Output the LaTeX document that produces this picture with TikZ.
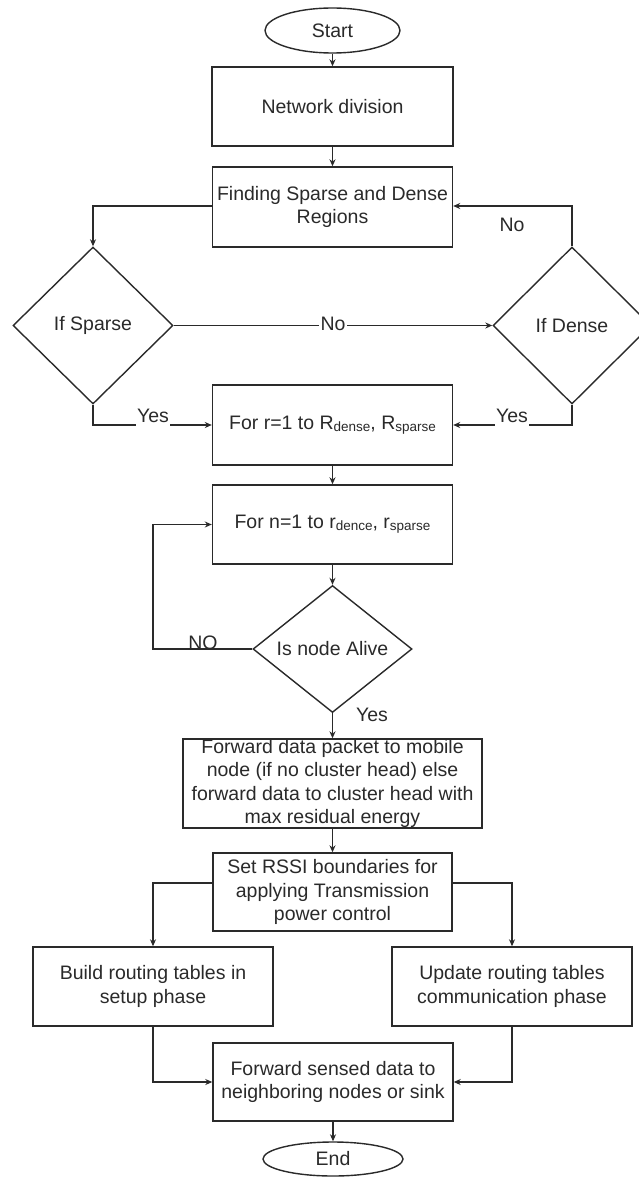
\documentclass[tikz,border=0pt]{standalone}
\usepackage{fontspec}
\setmainfont{Liberation Sans}
\usetikzlibrary{shapes.geometric,arrows.meta}
\newcommand\sbs[1]{\raisebox{-1.8pt}{\fontsize{13.5}{13.5}\selectfont #1}}
\definecolor{ln}{HTML}{2A2A2A}
\tikzset{
  every node/.style={font=\fontsize{19.5}{23.5}\selectfont, text=ln},
  box/.style={draw=ln, line width=1.4pt, rectangle, align=center, inner sep=0pt},
  term/.style={draw=ln, line width=1.4pt, ellipse, inner sep=0pt},
  dec/.style={draw=ln, line width=1.4pt, diamond, inner sep=0pt},
  arr/.style={draw=ln, line width=1.4pt, -{Stealth[length=7pt,width=6pt]}},
  lbl/.style={fill=white, inner xsep=1.5pt, inner ysep=0pt, text depth=6pt}
}
\begin{document}
\begin{tikzpicture}[x=1pt,y=-1pt]
\fill[white] (0,0) rectangle (639,1177);
\useasboundingbox (0,0) rectangle (639,1177);

\node[term, minimum width=135pt, minimum height=45pt] (start) at (332.5,30.5) {Start};
\node[box, minimum width=241pt, minimum height=79pt] (net) at (332.5,106.5) {Network division};
\node[box, minimum width=240pt, minimum height=80pt] (find) at (332.5,207) {Finding Sparse and Dense\\Regions};
\node[dec, minimum width=160pt, minimum height=157pt] (sparse) at (93,325.5) {If Sparse};
\node[dec, minimum width=158pt, minimum height=157pt] (dense) at (572,325.5) {If Dense};
\node[box, minimum width=240pt, minimum height=80pt] (forr) at (332.5,425) {For r=1 to R\sbs{dense}, R\sbs{sparse}};
\node[box, minimum width=240pt, minimum height=79pt] (forn) at (332.5,524.5) {For n=1 to r\sbs{dence}, r\sbs{sparse}};
\node[dec, minimum width=159pt, minimum height=127pt] (alive) at (332.5,649) {Is node Alive};
\node[box, minimum width=299pt, minimum height=89pt] (fwd) at (332.5,783.5) {Forward data packet to mobile\\node (if no cluster head) else\\forward data to cluster head with\\max residual energy};
\node[box, minimum width=239pt, minimum height=78pt] (rssi) at (332.5,892) {Set RSSI boundaries for\\applying Transmission\\power control};
\node[box, minimum width=240pt, minimum height=79pt] (build) at (153,986.5) {Build routing tables in\\setup phase};
\node[box, minimum width=240pt, minimum height=79pt] (update) at (512,986.5) {Update routing tables\\communication phase};
\node[box, minimum width=240pt, minimum height=78pt] (fsens) at (333,1082) {Forward sensed data to\\neighboring nodes or sink};
\node[term, minimum width=140pt, minimum height=34pt] (end) at (333,1159) {End};

\coordinate (loop) at (153,649);

\draw[arr] (start) -- (net);
\draw[arr] (net) -- (find);
\draw[arr] ([yshift=1pt]find.west) -| (sparse.north);
\draw[arr] (dense.north) |- ([yshift=1pt]find.east);
\node[anchor=base] (nolbl1) at (512,231) {No};
\draw[arr] (sparse.east) -- node[lbl, text depth=4pt] (nolbl2) {No} (dense.west);
\draw[arr] (sparse.south) |- (forr.west);
\node[lbl, anchor=base] (yes1) at (153,422) {Yes};
\draw[arr] (dense.south) |- (forr.east);
\node[lbl, anchor=base] (yes2) at (512,422) {Yes};
\draw[arr] (forr) -- (forn);
\draw[arr] (forn) -- (alive);
\draw[arr] (alive.west) -- (loop) |- (forn.west);
\node[anchor=base] (nolbl3) at (203,649) {NO};
\draw[arr] (alive.south) -- (fwd.north);
\node[anchor=base] (yes3) at (372,721) {Yes};
\draw[arr] (fwd) -- (rssi);
\draw[arr] ([yshift=9pt]rssi.west) -| (build.north);
\draw[arr] ([yshift=9pt]rssi.east) -| (update.north);
\draw[arr] (build.south) |- (fsens.west);
\draw[arr] (update.south) |- (fsens.east);
\draw[arr] (fsens) -- (end);
\end{tikzpicture}
\end{document}
